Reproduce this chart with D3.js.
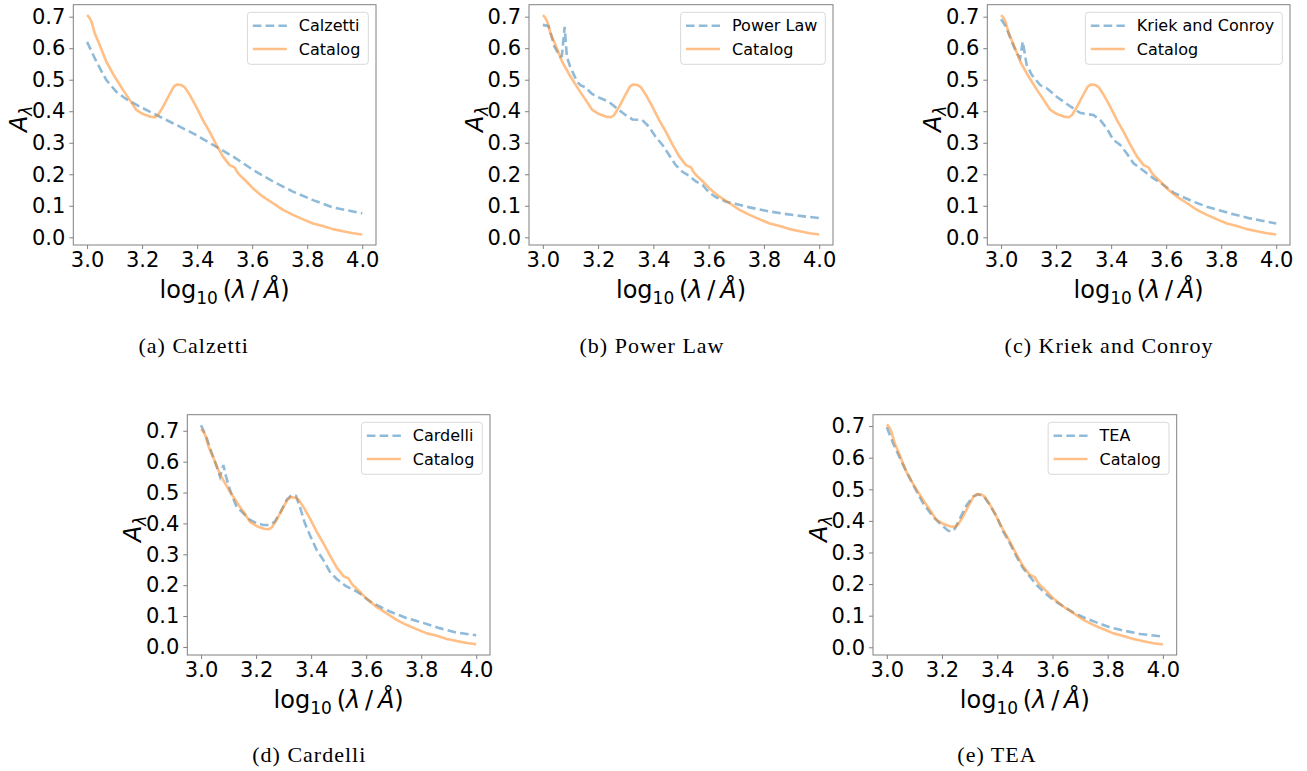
<!DOCTYPE html>
<html><head><meta charset="utf-8">
<script src="https://cdn.jsdelivr.net/npm/d3@7"></script>
<style>body{margin:0;background:#fff}</style>
</head><body>
<svg id="c" width="1307" height="771" xmlns="http://www.w3.org/2000/svg"></svg>
<script>
// ---------- data ----------
const xTicks = [3.0, 3.2, 3.4, 3.6, 3.8, 4.0];
const yTicks = [0.0, 0.1, 0.2, 0.3, 0.4, 0.5, 0.6, 0.7];

const catalogX = [3.0,3.008,3.016,3.028,3.046,3.07,3.1,3.131,3.155,3.179,3.203,3.228,3.246,3.258,3.276,3.295,3.315,3.327,3.343,3.355,3.373,3.397,3.421,3.445,3.47,3.494,3.518,3.536,3.545,3.554,3.579,3.603,3.639,3.676,3.712,3.748,3.785,3.821,3.857,3.893,3.93,3.966,4.0];
const catalogY = [0.705,0.698,0.684,0.647,0.61,0.557,0.51,0.467,0.436,0.404,0.391,0.383,0.381,0.388,0.414,0.446,0.478,0.485,0.483,0.476,0.452,0.414,0.372,0.335,0.293,0.256,0.229,0.222,0.208,0.198,0.177,0.155,0.129,0.108,0.087,0.071,0.057,0.044,0.036,0.026,0.019,0.013,0.009];

const calzettiX = [3.0,3.034,3.07,3.106,3.143,3.191,3.252,3.312,3.385,3.458,3.531,3.603,3.676,3.748,3.821,3.893,4.0];
const calzettiY = [0.62,0.557,0.499,0.462,0.438,0.415,0.388,0.362,0.33,0.293,0.256,0.214,0.177,0.145,0.118,0.095,0.076];

const powerLawX = [3.0,3.021,3.042,3.063,3.069,3.079,3.087,3.099,3.124,3.136,3.154,3.178,3.202,3.239,3.275,3.299,3.324,3.36,3.384,3.408,3.433,3.457,3.481,3.505,3.53,3.554,3.578,3.602,3.627,3.663,3.699,3.748,3.808,3.869,3.93,4.0];
const powerLawY = [0.674,0.67,0.605,0.573,0.575,0.668,0.573,0.541,0.494,0.483,0.476,0.455,0.444,0.43,0.404,0.388,0.374,0.372,0.351,0.319,0.293,0.261,0.229,0.208,0.195,0.177,0.166,0.142,0.127,0.113,0.106,0.095,0.084,0.075,0.068,0.061];

const kriekX = [3.0,3.018,3.039,3.057,3.069,3.079,3.093,3.112,3.142,3.166,3.202,3.239,3.263,3.287,3.312,3.336,3.36,3.384,3.408,3.433,3.457,3.481,3.518,3.554,3.59,3.627,3.663,3.699,3.748,3.796,3.845,3.905,4.0];
const kriekY = [0.692,0.668,0.621,0.584,0.568,0.621,0.547,0.515,0.483,0.473,0.446,0.423,0.409,0.395,0.391,0.388,0.372,0.346,0.309,0.293,0.266,0.235,0.211,0.187,0.166,0.142,0.127,0.113,0.097,0.085,0.073,0.06,0.044];

const cardelliX = [3.0,3.021,3.039,3.057,3.069,3.081,3.091,3.105,3.129,3.154,3.178,3.202,3.226,3.25,3.268,3.287,3.311,3.329,3.345,3.359,3.377,3.395,3.42,3.444,3.468,3.492,3.528,3.565,3.583,3.613,3.649,3.686,3.746,3.807,3.867,3.927,4.0];
const cardelliY = [0.718,0.675,0.627,0.584,0.551,0.589,0.551,0.508,0.454,0.433,0.411,0.401,0.395,0.395,0.406,0.433,0.476,0.492,0.489,0.454,0.401,0.363,0.314,0.282,0.244,0.221,0.196,0.18,0.169,0.148,0.131,0.115,0.094,0.078,0.061,0.047,0.038];

const teaX = [3.0,3.023,3.059,3.096,3.132,3.168,3.198,3.222,3.235,3.247,3.265,3.289,3.313,3.331,3.35,3.374,3.398,3.422,3.446,3.47,3.494,3.519,3.543,3.567,3.603,3.64,3.676,3.712,3.761,3.809,3.857,3.918,4.0];
const teaY = [0.696,0.645,0.577,0.513,0.455,0.413,0.387,0.369,0.366,0.376,0.408,0.45,0.477,0.484,0.479,0.45,0.413,0.366,0.329,0.287,0.25,0.223,0.197,0.176,0.15,0.129,0.11,0.095,0.078,0.063,0.053,0.042,0.034];

const modelNames = ["Calzetti", "Power Law", "Kriek and Conroy", "Cardelli", "TEA"];
const captions = ["(a) Calzetti", "(b) Power Law", "(c) Kriek and Conroy", "(d) Cardelli", "(e) TEA"];
const catalogName = "Catalog";

// ---------- layout ----------
const modelX = [calzettiX, powerLawX, kriekX, cardelliX, teaX];
const modelY = [calzettiY, powerLawY, kriekY, cardelliY, teaY];
const frames = [
  {l:73.3, r:376, t:4.7, b:245, yd:[-0.0244,0.738], cx:193.7, cy:353},
  {l:529, r:833, t:4.7, b:245, yd:[-0.0244,0.738], cx:652, cy:353},
  {l:987.3, r:1290, t:4.7, b:245, yd:[-0.0244,0.738], cx:1109, cy:353},
  {l:187.3, r:490, t:414.7, b:655, yd:[-0.026,0.752], cx:309.3, cy:762},
  {l:873, r:1176.7, t:414.7, b:655, yd:[-0.0244,0.736], cx:997, cy:762}
];

const svg = d3.select("#c");
const BLUE = "#1f77b4", ORANGE = "#ff7f0e", FRAME = "#808080";
const sans = "DejaVu Sans, sans-serif";
const LW = 2.6, DASH = "8.6,4.2";

frames.forEach((f, i) => {
  const x = d3.scaleLinear().domain([2.95, 4.05]).range([f.l, f.r]);
  const y = d3.scaleLinear().domain(f.yd).range([f.b, f.t]);
  const g = svg.append("g");

  // axes
  const xa = g.append("g").attr("transform", `translate(0,${f.b})`)
    .call(d3.axisBottom(x).tickValues(xTicks).tickFormat(d3.format(".1f")).tickSize(4).tickPadding(3.5));
  const ya = g.append("g").attr("transform", `translate(${f.l},0)`)
    .call(d3.axisLeft(y).tickValues(yTicks).tickFormat(d3.format(".1f")).tickSize(4).tickPadding(4));
  [xa, ya].forEach(a => {
    a.select(".domain").remove();
    a.selectAll(".tick line").attr("stroke", FRAME).attr("stroke-width", 1);
    a.selectAll(".tick text").attr("fill", "#000").style("font-family", sans).style("font-size", "21px");
  });

  // clip
  const cid = "clip" + i;
  g.append("clipPath").attr("id", cid).append("rect")
    .attr("x", f.l).attr("y", f.t).attr("width", f.r - f.l).attr("height", f.b - f.t);

  const line = d3.line().x(d => x(d[0])).y(d => y(d[1]));
  const mdata = modelX[i].map((v, k) => [v, modelY[i][k]]);
  const cdata = catalogX.map((v, k) => [v, catalogY[k]]);
  const pg = g.append("g").attr("clip-path", `url(#${cid})`);
  pg.append("path").datum(mdata).attr("d", line)
    .attr("fill", "none").attr("stroke", BLUE).attr("stroke-opacity", 0.5)
    .attr("stroke-width", LW).attr("stroke-dasharray", DASH);
  pg.append("path").datum(cdata).attr("d", line)
    .attr("fill", "none").attr("stroke", ORANGE).attr("stroke-opacity", 0.5)
    .attr("stroke-width", LW).attr("stroke-linejoin", "round");

  // frame
  g.append("rect").attr("x", f.l).attr("y", f.t).attr("width", f.r - f.l).attr("height", f.b - f.t)
    .attr("fill", "none").attr("stroke", FRAME).attr("stroke-width", 1);

  // x label
  const xl = g.append("text").attr("x", (f.l + f.r) / 2).attr("y", f.b + 53)
    .attr("text-anchor", "middle").style("font-family", sans).style("font-size", "24px").attr("fill", "#000");
  xl.append("tspan").text("log");
  xl.append("tspan").attr("dy", 6).style("font-size", "17px").text("10");
  xl.append("tspan").attr("dy", -6).text("\u2009(");
  xl.append("tspan").style("font-style", "italic").text("λ");
  xl.append("tspan").text("\u2009/\u2009");
  xl.append("tspan").style("font-style", "italic").text("Å");
  xl.append("tspan").text(")");

  // y label
  const yl = g.append("text")
    .attr("transform", `translate(${f.l - 46},${(f.t + f.b) / 2 - 6}) rotate(-90)`)
    .attr("text-anchor", "middle").style("font-family", sans).style("font-size", "24px").attr("fill", "#000");
  yl.append("tspan").style("font-style", "italic").text("A");
  yl.append("tspan").attr("dy", 5).style("font-style", "italic").style("font-size", "17px").text("λ");

  // legend
  const labels = [modelNames[i], catalogName];
  const lg = g.append("g");
  const tmp = lg.append("text").style("font-family", sans).style("font-size", "16px");
  let tw = 0;
  labels.forEach(s => { tmp.text(s); tw = Math.max(tw, tmp.node().getComputedTextLength()); });
  tmp.remove();
  const bw = 5.4 + 34 + 12 + tw + 8, bh = 52;
  const bx = f.r - 7.7 - bw, by = f.t + 7.6;
  lg.append("rect").attr("x", bx).attr("y", by).attr("width", bw).attr("height", bh)
    .attr("rx", 3).attr("fill", "#fff").attr("fill-opacity", 0.8).attr("stroke", "#d9d9d9").attr("stroke-width", 1);
  labels.forEach((s, k) => {
    const cy = by + 13.4 + k * 23.3;
    lg.append("line").attr("x1", bx + 5.4).attr("x2", bx + 39.4).attr("y1", cy).attr("y2", cy)
      .attr("stroke", k === 0 ? BLUE : ORANGE).attr("stroke-opacity", 0.5).attr("stroke-width", LW)
      .attr("stroke-dasharray", k === 0 ? DASH : null);
    lg.append("text").attr("x", bx + 51.4).attr("y", cy).attr("dy", "0.36em")
      .style("font-family", sans).style("font-size", "16px").attr("fill", "#000").text(s);
  });

  // caption
  svg.append("text").attr("x", f.cx).attr("y", f.cy).attr("text-anchor", "middle")
    .style("font-family", "Liberation Serif, serif").style("font-size", "22px").style("letter-spacing", "1px")
    .attr("fill", "#000").text(captions[i]);
});
</script>
</body></html>
